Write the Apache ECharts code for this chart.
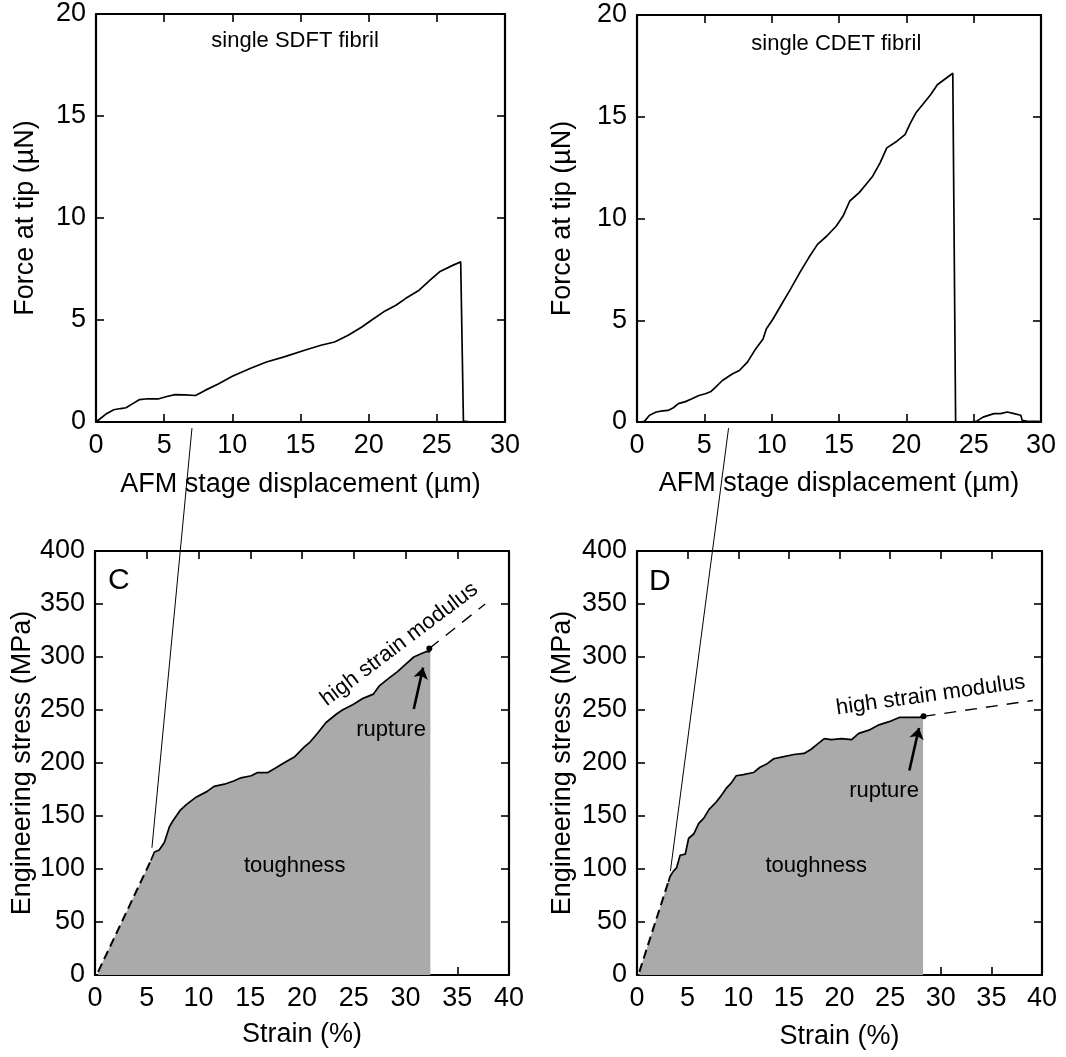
<!DOCTYPE html>
<html><head><meta charset="utf-8">
<script src="https://cdn.jsdelivr.net/npm/echarts@6/dist/echarts.min.js"></script>
<style>html,body{margin:0;padding:0;background:#fff}#c{width:1066px;height:1057px}</style>
</head><body><div id="c"></div><script>
// ---------- data ----------
const sdftForce = [[0,0],[0.3,0.16],[0.8,0.42],[1.3,0.6],[1.8,0.66],[2.2,0.7],[2.7,0.9],[3.2,1.1],[3.8,1.14],[4.55,1.13],[5.2,1.25],[5.8,1.34],[6.5,1.33],[7.3,1.3],[8.0,1.55],[9.0,1.88],[10.0,2.24],[11.3,2.62],[12.5,2.94],[13.8,3.19],[15.3,3.52],[16.5,3.76],[17.5,3.92],[18.5,4.25],[19.5,4.66],[20.2,4.99],[21.1,5.4],[22.0,5.72],[22.7,6.05],[23.7,6.46],[24.5,6.95],[25.2,7.36],[26.2,7.69],[26.75,7.85],[26.95,0.05],[27.5,0],[28.2,0]];
const cdetForce = [[0.2,0],[0.55,0.03],[0.93,0.33],[1.43,0.49],[1.9,0.55],[2.3,0.57],[2.7,0.7],[3.07,0.9],[3.6,1.0],[4.08,1.14],[4.6,1.3],[5.08,1.39],[5.5,1.5],[5.84,1.71],[6.34,2.04],[7.1,2.37],[7.6,2.53],[8.2,2.94],[8.73,3.51],[9.36,4.08],[9.6,4.57],[10.1,5.06],[10.75,5.8],[11.4,6.53],[12.1,7.35],[12.76,8.08],[13.4,8.73],[14.1,9.14],[14.8,9.63],[15.3,10.12],[15.8,10.86],[16.5,11.27],[17.0,11.67],[17.5,12.08],[18.05,12.73],[18.55,13.47],[19.3,13.8],[19.9,14.12],[20.3,14.69],[20.7,15.18],[21.2,15.59],[21.8,16.08],[22.3,16.57],[22.8,16.82],[23.45,17.14],[23.66,0],[24.7,0],[25.2,0.03],[25.7,0.24],[26.5,0.41],[27.0,0.41],[27.5,0.49],[28.0,0.41],[28.5,0.33],[28.6,0.08],[29.0,0.03],[29.9,0.03]];

const sdftToe = [[0.3,3],[5.4,108]];
const sdftStress = [[5.4,108],[5.74,116],[6.2,118],[6.7,125],[7.2,140],[7.5,145],[8.2,155],[8.85,161],[9.8,168],[10.8,173],[11.5,178],[12.5,180],[13.4,183],[14.1,186],[15.1,188],[15.7,191],[16.7,191],[17.4,195],[18.4,201],[19.3,206],[20.2,215],[20.8,220],[21.5,228],[22.3,238],[23.3,246],[23.9,250],[24.9,255],[25.9,261],[26.9,265],[27.5,273],[28.4,280],[29.2,286],[30.0,293],[30.8,300],[31.5,303],[31.97,305],[32.4,305]];
const sdftRupture = [32.3,308];
const sdftModulus = [[32.3,308],[37.7,350]];
const sdftArrow = [[30.8,251],[31.7,290]];

const cdetToe = [[0.23,3],[3.1,88]];
const cdetStress = [[3.1,88],[3.26,93],[3.6,98],[3.9,101],[4.26,113],[4.77,114],[5.1,129],[5.6,133],[6.1,143],[6.6,148],[7.1,156],[7.8,163],[8.3,169],[8.8,176],[9.3,181],[9.8,188],[10.5,189],[11.5,191],[12.15,196],[12.8,199],[13.5,204],[14.5,206],[15.5,208],[16.5,209],[17.2,213],[17.85,218],[18.5,223],[19.2,222],[20.2,223],[21.2,222],[21.9,228],[22.9,231],[23.9,236],[24.9,239],[25.9,243],[26.9,243],[27.9,243],[28.25,244]];
const cdetRupture = [28.3,244];
const cdetModulus = [[28.3,244],[39.1,259]];
const cdetArrow = [[26.9,193],[27.85,233]];

// axis ranges / ticks
const forceAxis = {min:0, max:20, interval:5};
const dispAxis = {min:0, max:30, interval:5};
const stressAxis = {min:0, max:400, interval:50};
const strainAxis = {min:0, max:40, interval:5};

// text annotations [text, x, y]
const textTL = [['single SDFT fibril', 14.6, 18.7]];
const textTR = [['single CDET fibril', 14.8, 18.6]];
const textBL = [['C', 2.3, 372], ['toughness', 19.3, 103], ['rupture', 28.6, 231], ['high strain modulus', 29.4, 312]];
const textBR = [['D', 2.25, 371], ['toughness', 17.7, 103], ['rupture', 24.4, 174], ['high strain modulus', 29.0, 264]];

// zoom connector lines: [from (top grid data), to (bottom grid data)]
const linkLeft = [[7.04,-0.3],[5.5,120]];
const linkRight = [[6.8,-0.3],[3.3,98]];

// ---------- chart ----------
const FONT = '"Liberation Sans", Arial, sans-serif';
const grids = [
  {left:96, top:14, width:409, height:408},
  {left:637, top:15, width:404, height:407},
  {left:95, top:551, width:414, height:424},
  {left:637, top:551, width:405, height:424}
];
const xDefs = [
  [dispAxis, 'AFM stage displacement (µm)', 49],
  [dispAxis, 'AFM stage displacement (µm)', 48],
  [strainAxis, 'Strain (%)', 46],
  [strainAxis, 'Strain (%)', 48]
];
const yDefs = [
  [forceAxis, 'Force at tip (µN)', 57],
  [forceAxis, 'Force at tip (µN)', 61],
  [stressAxis, 'Engineering stress (MPa)', 56],
  [stressAxis, 'Engineering stress (MPa)', 61]
];
const lineAx = {show:true, onZero:false, lineStyle:{color:'#000', width:2.2}};
const tickAx = {show:true, inside:true, length:8, lineStyle:{color:'#000', width:1.6}};
const xAxes = [], yAxes = [];
for (let i = 0; i < 4; i++) {
  const [r, nm, gap] = xDefs[i];
  xAxes.push({type:'value', gridIndex:i, position:'bottom', min:r.min, max:r.max, interval:r.interval,
    name:nm, nameLocation:'middle', nameGap:gap, nameTextStyle:{color:'#000', fontSize:27, fontFamily:FONT},
    axisLine:lineAx, axisTick:tickAx, splitLine:{show:false},
    axisLabel:{color:'#000', fontSize:27, fontFamily:FONT, margin:10}});
  const [ry, nmy, gapy] = yDefs[i];
  yAxes.push({type:'value', gridIndex:i, position:'left', min:ry.min, max:ry.max, interval:ry.interval,
    name:nmy, nameLocation:'middle', nameGap:gapy, nameRotate:90, nameTextStyle:{color:'#000', fontSize:27, fontFamily:FONT},
    axisLine:lineAx, axisTick:tickAx, splitLine:{show:false},
    axisLabel:{color:'#000', fontSize:27, fontFamily:FONT, margin:10}});
}
for (let i = 0; i < 4; i++) {
  const r = xDefs[i][0], ry = yDefs[i][0];
  xAxes.push({type:'value', gridIndex:i, position:'top', min:r.min, max:r.max, interval:r.interval,
    axisLine:lineAx, axisTick:tickAx, axisLabel:{show:false}, splitLine:{show:false}});
  yAxes.push({type:'value', gridIndex:i, position:'right', min:ry.min, max:ry.max, interval:ry.interval,
    axisLine:lineAx, axisTick:tickAx, axisLabel:{show:false}, splitLine:{show:false}});
}

function curve(i, data, extra) {
  return Object.assign({type:'line', xAxisIndex:i, yAxisIndex:i, data:data, symbol:'none', silent:true,
    lineStyle:{color:'#000', width:1.7}, z:5}, extra || {});
}
function texts(i, arr, size, rotMap) {
  return {type:'scatter', xAxisIndex:i, yAxisIndex:i, symbolSize:1, silent:true, z:10,
    itemStyle:{color:'rgba(255,255,255,0)', opacity:1},
    data: arr.map(t => ({name:t[0], value:[t[1], t[2]],
      label:{rotate:(rotMap && rotMap[t[0]]) || 0, fontSize:(t[0].length === 1 ? 30 : size)}})),
    label:{show:true, position:'inside', formatter:'{b}', color:'#000', opacity:1, fontFamily:FONT, fontSize:size}};
}
function arrowSeries(i, pt, arrow) {
  return {type:'scatter', xAxisIndex:i, yAxisIndex:i, data:[pt], symbolSize:6, silent:true, z:8,
    itemStyle:{color:'#000', opacity:1},
    markLine:{silent:true, symbol:['none','arrow'], symbolSize:11, label:{show:false},
      lineStyle:{color:'#000', width:2.6, type:'solid', opacity:1}, animation:false,
      data:[[{coord:arrow[0]},{coord:arrow[1]}]]}};
}

const series = [
  curve(0, sdftForce),
  curve(1, cdetForce),
  // panel C
  curve(2, sdftToe.concat(sdftStress.slice(1)), {lineStyle:{width:0}, areaStyle:{color:'#aaaaaa', opacity:1}, z:2}),
  curve(2, sdftToe, {lineStyle:{color:'#000', width:2, type:[9,5]}}),
  curve(2, sdftStress),
  curve(2, sdftModulus, {lineStyle:{color:'#000', width:1.4, type:[12,9]}}),
  arrowSeries(2, sdftRupture, sdftArrow),
  // panel D
  curve(3, cdetToe.concat(cdetStress.slice(1)), {lineStyle:{width:0}, areaStyle:{color:'#aaaaaa', opacity:1}, z:2}),
  curve(3, cdetToe, {lineStyle:{color:'#000', width:2, type:[9,5]}}),
  curve(3, cdetStress),
  curve(3, cdetModulus, {lineStyle:{color:'#000', width:1.4, type:[12,9]}}),
  arrowSeries(3, cdetRupture, cdetArrow),
  texts(0, textTL, 22),
  texts(1, textTR, 22),
  texts(2, textBL, 22, {'high strain modulus':37}),
  texts(3, textBR, 22, {'high strain modulus':8})
];

const chart = echarts.init(document.getElementById('c'), null, {renderer:'canvas'});
chart.setOption({animation:false, backgroundColor:'#fff', grid:grids, xAxis:xAxes, yAxis:yAxes, series:series});

function link(topSeries, bottomSeries, pair) {
  const a = chart.convertToPixel({seriesIndex:topSeries}, pair[0]);
  const b = chart.convertToPixel({seriesIndex:bottomSeries}, pair[1]);
  return {type:'line', shape:{x1:a[0], y1:a[1], x2:b[0], y2:b[1]}, style:{stroke:'#000', lineWidth:1}, z:20, silent:true};
}
chart.setOption({graphic:[link(0, 4, linkLeft), link(1, 9, linkRight)]});
</script></body></html>
